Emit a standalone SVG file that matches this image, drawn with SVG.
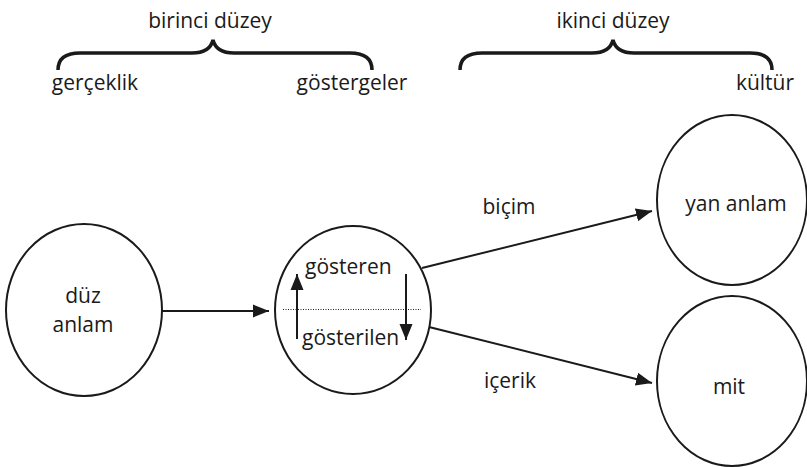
<svg xmlns="http://www.w3.org/2000/svg" width="807" height="467" viewBox="0 0 807 467">
<style>
text{font-family:"Open Sans","Liberation Sans",sans-serif;font-size:21px;fill:#1a1a1a}
.node{fill:none;stroke:#1a1a1a;stroke-width:2}
.edge{fill:none;stroke:#1a1a1a;stroke-width:2;marker-end:url(#ah)}
.brace{fill:none;stroke:#1a1a1a;stroke-width:3.5}
.mid{text-anchor:middle}
</style>
<defs>
<marker id="ah" markerUnits="userSpaceOnUse" markerWidth="17" markerHeight="14" refX="16" refY="7" orient="auto">
<path d="M0,0.5 L16,7 L0,13.5 z" fill="#1a1a1a"/>
</marker>
</defs>
<g id="labels-top">
<text class="mid" x="210" y="28">birinci düzey</text>
<text class="mid" x="613" y="28">ikinci düzey</text>
<text class="mid" x="95" y="90">gerçeklik</text>
<text class="mid" x="352" y="90">göstergeler</text>
<text class="mid" x="765" y="90">kültür</text>
<path class="brace" d="M58,70 C58,59 65,53 80,53 L192,53 C205,53 211,48 213,40 C215,48 221,53 234,53 L350,53 C365,53 372,59 372,70"/>
<path class="brace" d="M460,70 C460,59 467,53 482,53 L592,53 C605,53 611,48 613,40 C615,48 621,53 634,53 L750,53 C765,53 772,59 772,70"/>
</g>
<g id="connectors">
<line class="edge" x1="162" y1="311" x2="269" y2="311"/>
<line class="edge" x1="422" y1="268" x2="652" y2="211"/>
<line class="edge" x1="429" y1="327" x2="652" y2="383"/>
</g>
<g id="node-duz-anlam">
<ellipse class="node" cx="84" cy="310" rx="78" ry="86"/>
<text class="mid" x="83" y="303">düz</text>
<text class="mid" x="83" y="332">anlam</text>
</g>
<g id="node-gosteren">
<ellipse class="node" cx="353" cy="310" rx="78" ry="84"/>
<line x1="283" y1="309.5" x2="421" y2="309.5" stroke="#1a1a1a" stroke-width="1" stroke-dasharray="1,1.5"/>
<line class="edge" x1="297" y1="339" x2="297" y2="274"/>
<line class="edge" x1="406" y1="274" x2="406" y2="340"/>
<text x="305" y="274">gösteren</text>
<text x="302" y="345">gösterilen</text>
</g>
<g id="node-yan-anlam">
<ellipse class="node" cx="732" cy="200" rx="75" ry="85"/>
<text class="mid" x="736" y="211">yan anlam</text>
</g>
<g id="node-mit">
<ellipse class="node" cx="732" cy="381" rx="75" ry="85"/>
<text class="mid" x="729" y="394">mit</text>
</g>
<g id="edge-labels">
<text class="mid" x="509" y="214">biçim</text>
<text class="mid" x="510" y="388">içerik</text>
</g>
</svg>
